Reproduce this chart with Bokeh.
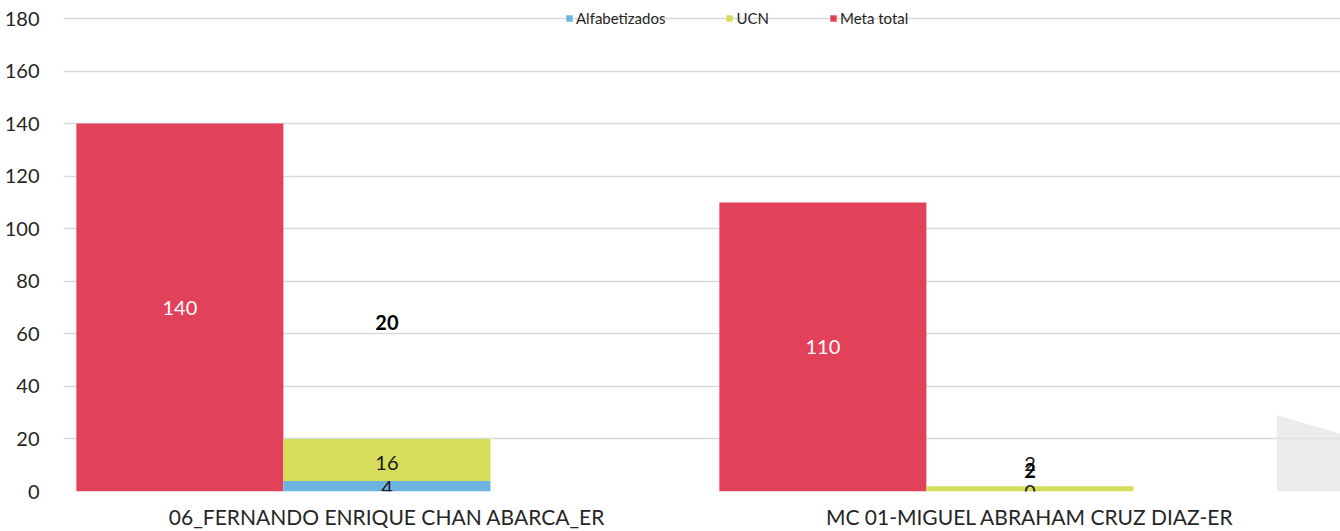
from bokeh.plotting import figure
from bokeh.models import ColumnDataSource, Legend, LegendItem, FixedTicker, Range1d
from bokeh.core.properties import value
from bokeh.embed import file_html
from bokeh.resources import INLINE

# ---- data ----
categories = ["06_FERNANDO ENRIQUE CHAN ABARCA_ER", "MC 01-MIGUEL ABRAHAM CRUZ DIAZ-ER"]
meta_total = [140, 110]
alfabetizados = [4, 0]
ucn = [16, 2]
totals = [a + u for a, u in zip(alfabetizados, ucn)]
y_ticks = [0, 20, 40, 60, 80, 100, 120, 140, 160, 180]
# label positions as they appear in the chart
alfa_label_y = [1.5, -0.3]
ucn_label_y = [11, 10.5]
total_label_y = [64.3, 8]

# ---- styling ----
RED = "#E2415A"
YELLOW = "#D6DD5B"
BLUE = "#6BB3E1"
FONT = "Lato"
BAR_W = 0.322

cat_x = [i + 0.5 for i in range(len(categories))]
red_x = [c - BAR_W for c in cat_x]

p = figure(width=1340, height=531, output_backend="svg", toolbar_location=None,
           x_range=Range1d(-0.003, 1.983), y_range=Range1d(0, 186.85),
           min_border_left=63, min_border_right=0, min_border_top=0, min_border_bottom=38)
p.outline_line_color = None
p.background_fill_color = "white"

# decorative grey shape at lower right
p.patch(x=[1.884, 1.884, 1.983, 1.983], y=[0, 29, 22, 0], fill_color="#e4e4e4",
        fill_alpha=0.7, line_color=None)

src = ColumnDataSource(dict(x=cat_x, rx=red_x, meta=meta_total, alfa=alfabetizados, ucn=ucn,
                            tot=[str(t) for t in totals],
                            meta_lbl=[str(m) for m in meta_total], meta_y=[m / 2 for m in meta_total],
                            alfa_lbl=[str(a) for a in alfabetizados], alfa_y=alfa_label_y,
                            ucn_lbl=[str(u) for u in ucn], ucn_y=ucn_label_y, tot_y=total_label_y))

red_r = p.vbar(x="rx", top="meta", width=BAR_W, source=src, fill_color=RED, line_color=None)
stack_r = p.vbar_stack(["alfa", "ucn"], x="x", width=BAR_W, source=src,
                       fill_color=[BLUE, YELLOW], line_color=None)

p.text(x="rx", y="meta_y", text="meta_lbl", source=src, text_color="white",
       text_font=value(FONT), text_font_size="20px", text_align="center", text_baseline="middle")
p.text(x="x", y="ucn_y", text="ucn_lbl", source=src, text_color="#1a1a1a",
       text_font=value(FONT), text_font_size="20px", text_align="center", text_baseline="middle")
p.text(x="x", y="alfa_y", text="alfa_lbl", source=src, text_color="#1a1a1a",
       text_font=value(FONT), text_font_size="20px", text_align="center", text_baseline="middle")
p.text(x="x", y="tot_y", text="tot", source=src, text_color="black", text_font_style="bold",
       text_font=value(FONT), text_font_size="20px", text_align="center", text_baseline="middle")

# axes
p.yaxis.ticker = FixedTicker(ticks=y_ticks)
p.yaxis.axis_line_color = None
p.yaxis.major_tick_line_color = None
p.yaxis.minor_tick_line_color = None
p.yaxis.major_label_standoff = 18
p.yaxis.major_label_text_font = FONT
p.yaxis.major_label_text_font_size = "20px"
p.yaxis.major_label_text_color = "#262626"

p.xaxis.ticker = FixedTicker(ticks=cat_x)
p.xaxis.major_label_overrides = {c: lab for c, lab in zip(cat_x, categories)}
p.xaxis.axis_line_color = None
p.xaxis.major_tick_line_color = None
p.xaxis.minor_tick_line_color = None
p.xaxis.major_label_standoff = 6
p.xaxis.major_label_text_font = FONT
p.xaxis.major_label_text_font_size = "21px"
p.xaxis.major_label_text_color = "#262626"

p.xgrid.grid_line_color = None
p.ygrid.grid_line_color = "#d9d9d9"
p.ygrid.grid_line_width = 1.5
p.ygrid.ticker = FixedTicker(ticks=y_ticks)

legend = Legend(items=[LegendItem(label="Alfabetizados", renderers=[stack_r[0]]),
                       LegendItem(label="UCN", renderers=[stack_r[1]]),
                       LegendItem(label="Meta total", renderers=[red_r])],
                orientation="horizontal", location=(502, 464), padding=0, margin=0,
                spacing=60, glyph_width=8, glyph_height=8, label_standoff=3,
                label_text_font=FONT, label_text_font_size="15px", label_height=14,
                label_text_color="#262626", border_line_color=None, background_fill_alpha=0)
p.add_layout(legend)

open("out.html", "w").write(file_html(p, INLINE))
